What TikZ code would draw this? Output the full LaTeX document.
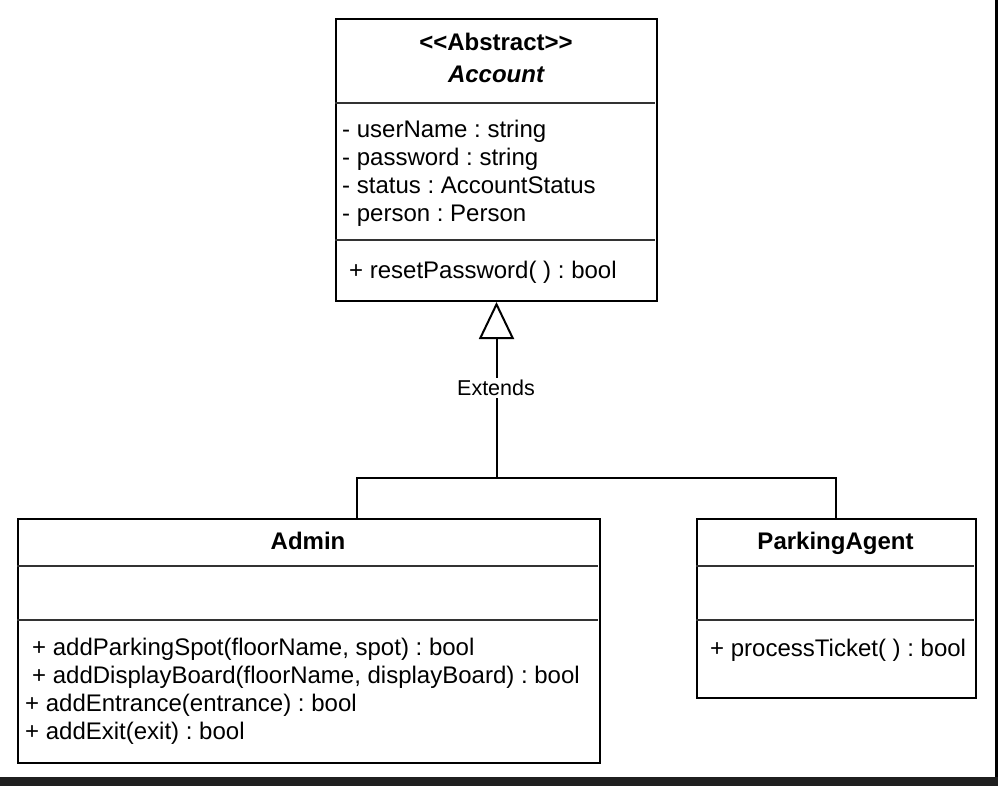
\documentclass[tikz,border=0pt]{standalone}
\usepackage{fontspec}
\setmainfont{Liberation Sans}[Ligatures=TeXOff]
\usetikzlibrary{arrows.meta,calc}
\begin{document}
\frenchspacing
\begin{tikzpicture}[x=1pt,y=-1pt,
  classbox/.style={draw=black, line width=2pt, rectangle, anchor=north west, inner sep=0pt},
  sepline/.style={draw=black!80, line width=1.5pt},
  conn/.style={draw=black, line width=2pt},
  txt/.style={inner sep=0pt, font=\fontsize{24}{28}\selectfont},
  ltxt/.style={txt, anchor=base west},
  ttl/.style={txt, anchor=base, font=\fontsize{24}{28}\selectfont\bfseries},
  lbl/.style={fill=white, inner sep=2pt, font=\fontsize{21.5}{26}\selectfont}]
\useasboundingbox (0,0) rectangle (998,786);
\fill[white] (0,0) rectangle (998,786);
% frame edges
\fill[black] (995,0) rectangle (998,786);
\fill[black!88] (0,777) rectangle (998,786);

% Account
\node[classbox, minimum width=321pt, minimum height=282pt] (acc) at (335,18) {};
\draw[sepline] (335,103) -- (655,103);
\draw[sepline] (335,240) -- (655,240);
\node[ttl] (accst) at (496,51) {<<Abstract>>};
\node[ttl, font=\fontsize{24}{28}\selectfont\bfseries\itshape] (accname) at (496,83) {Account};
\node[ltxt] (a1) at (342,138) {- userName : string};
\node[ltxt] (a2) at (342,166) {- password : string};
\node[ltxt] (a3) at (342,194) {- status : AccountStatus};
\node[ltxt] (a4) at (342,222) {- person : Person};
\node[ltxt] (am1) at (349,278) {+ resetPassword( ) : bool};

% Admin
\node[classbox, minimum width=582pt, minimum height=244pt] (admin) at (17,518) {};
\draw[sepline] (17,566) -- (598,566);
\draw[sepline] (17,620) -- (598,620);
\node[ttl] (adminname) at (308,549) {Admin};
\node[ltxt] (m1) at (32,655) {+ addParkingSpot(floorName, spot) : bool};
\node[ltxt] (m2) at (32,683) {+ addDisplayBoard(floorName, displayBoard) : bool};
\node[ltxt] (m3) at (25,711) {+ addEntrance(entrance) : bool};
\node[ltxt] (m4) at (25,739) {+ addExit(exit) : bool};

% ParkingAgent
\node[classbox, minimum width=279pt, minimum height=179pt] (pa) at (696,518) {};
\draw[sepline] (696,566) -- (974,566);
\draw[sepline] (696,620) -- (974,620);
\node[ttl] (paname) at (835.5,549) {ParkingAgent};
\node[ltxt] (pm1) at (710,656) {+ processTicket( ) : bool};

% connectors
\coordinate (j) at (acc.south |- 0,478);
\draw[conn] ($(admin.north west)+(340,0)$) |- (j) -| ($(pa.north west)+(140,0)$);
\draw[conn, -{Triangle[open, length=37pt, width=35pt, fill=white]}] (j) -- (acc.south);
\node[lbl] (ext) at (496,388) {Extends};
\end{tikzpicture}
\end{document}
